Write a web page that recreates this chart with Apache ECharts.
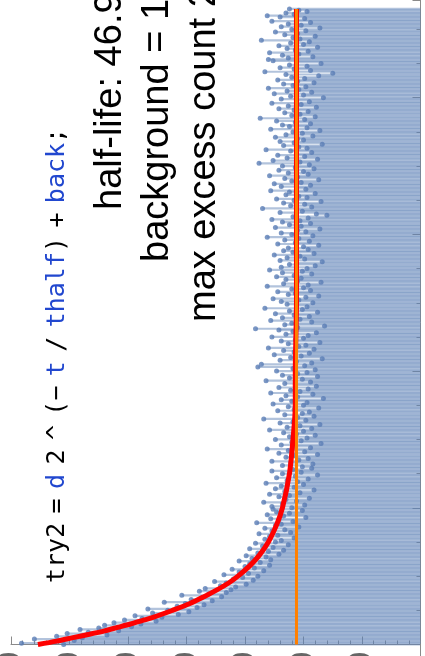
<!DOCTYPE html>
<html>
<head>
<meta charset="utf-8">
<script src="https://cdn.jsdelivr.net/npm/echarts@6/dist/echarts.min.js"></script>
<style>
html, body { margin: 0; padding: 0; background: #fff; }
#chart { width: 425px; height: 656px; }
</style>
</head>
<body>
<div id="chart"></div>
<script>
// Decay measurement: counts per bin (t = tStart + index * tStep)
const tStart = 0;
const tStep = 2;
const counts = [
  // t = 0 .. 258
  305, 341, 312, 296, 330, 289, 311, 268, 302, 284, 258, 291, 275, 247, 270, 239, 262, 226, 253, 238,
  221, 244, 207, 229, 198, 216, 233, 191, 208, 185, 201, 219, 178, 196, 187, 170, 204, 181, 166, 189,
  162, 184, 158, 171, 149, 166, 176, 143, 160, 152, 139, 168, 147, 155, 134, 161, 142, 150, 129, 146,
  137, 155, 128, 144, 132, 149, 121, 139, 130, 117, 146, 126, 135, 113, 141, 124, 119, 133, 108, 129,
  122, 138, 111, 127, 116, 133, 104, 124, 119, 140, 109, 121, 128, 98, 117, 131, 112, 123, 101, 126,
  110, 127, 99, 118, 134, 106, 115, 95, 121, 112, 129, 103, 116, 91, 124, 108, 119, 100, 132, 105,
  114, 96, 123, 107, 88, 118, 102, 127, 109, 93,
  // t = 260 .. 930
  101, 118, 92, 111, 127, 104, 96, 115, 108, 88, 121, 99, 113, 131, 94, 107, 119, 85, 110, 102,
  124, 97, 112, 90, 106, 117, 100, 129, 93, 114, 103, 86, 120, 109, 98, 134, 105, 91, 116, 101,
  95, 122, 108, 87, 113, 100, 126, 97, 110, 119, 83, 105, 115, 92, 128, 103, 111, 96, 121, 89,
  107, 116, 94, 132, 101, 112, 88, 118, 105, 97, 123, 90, 109, 139, 99, 136, 93, 106, 120, 84,
  111, 102, 125, 95, 108, 117, 91, 130, 104, 98, 113, 86, 119, 107, 100, 127, 96, 115, 89, 109,
  121, 141, 105, 82, 116, 110, 93, 128, 103, 118, 95, 108, 124, 88, 112, 101, 133, 97, 106, 114,
  92, 119, 104, 126, 98, 87, 113, 107, 122, 94, 110, 100, 131, 96, 117, 85, 105, 115, 102, 123,
  108, 93, 118, 101, 129, 97, 119, 90, 112, 106, 84, 120, 99, 114, 103, 125, 91, 109, 117, 96,
  113, 100, 87, 122, 107, 95, 116, 104, 131, 92, 110, 119, 98, 105, 86, 124, 102, 112, 94, 118,
  103, 127, 96, 109, 80, 89, 120, 101, 106, 135, 93, 111, 99, 117, 85, 108, 123, 97, 104, 115,
  90, 112, 128, 98, 106, 119, 94, 125, 102, 110, 87, 116, 105, 129, 96, 113, 100, 121, 91, 107,
  118, 95, 138, 103, 126, 88, 114, 99, 122, 106, 93, 111, 132, 97, 104, 117, 84, 108, 120, 100,
  105, 124, 92, 115, 101, 109, 86, 128, 97, 112, 118, 94, 107, 123, 99, 137, 90, 110, 103, 116,
  96, 108, 121, 89, 113, 102, 127, 95, 106, 119, 83, 111, 100, 125, 93, 114, 104, 130, 98, 109,
  117, 91, 105, 122, 99, 110, 87, 115, 75, 133, 94, 108, 120, 97, 112, 85, 106, 126, 130, 113,
  92, 118, 104, 129, 96, 107, 114, 88, 121, 100, 111, 95, 136, 103, 109, 90, 116, 105, 124, 98,
  110, 86, 119, 102, 113, 94, 127, 106, 99, 120, 131, 108, 115, 97, 104, 112
];

// Fitted decay curve, sampled at these times
const fitT =     [0,   5,   10,  15,  20,  25,  30,  35,  40,  50,  60,  70,  80,  90,  100, 115, 130, 150, 175, 200, 250, 300, 350, 400, 500, 700, 930];
const fitCount = [327, 311, 297, 283, 270, 259, 248, 238, 228, 212, 197, 185, 174, 164, 156, 146, 138, 130, 123, 118, 112, 109, 107, 107, 106, 106, 106];

const background = 106;
const bgT = [0, 930];

const titleCode = [
  ['k', 'try2'], ['s', ' '], ['k', '='], ['s', ' '], ['b', 'd'], ['s', ' '], ['k', '2'], ['s', ' '],
  ['k', '^'], ['s', ' '], ['k', '(−'], ['s', ' '], ['b', 't'], ['s', ' '], ['k', '/'], ['s', ' '],
  ['b', 'thalf'], ['k', ')'], ['s', ' '], ['k', '+'], ['s', ' '], ['b', 'back'], ['k', ';']
];
const infoLines = ['half-life: 46.9 s', 'background = 106.1', 'max excess count 221'];

const points = counts.map((c, i) => [c, tStart + i * tStep]);
const fitLine = fitT.map((t, i) => [fitCount[i], t]);
const bgLine = bgT.map(t => [background, t]);

const chart = echarts.init(document.getElementById('chart'), null, { renderer: 'canvas' });

const axisGray = '#8a8a8a';
const sans = '"Liberation Sans", Arial, Helvetica, sans-serif';
const mono = '"DejaVu Sans Mono", monospace';

const richText = titleCode.map(([k, s]) => '{' + k + '|' + s + '}').join('');

function rotatedText(x, y, text, font) {
  return {
    type: 'text', x: x, y: y, rotation: Math.PI / 2, z: 10,
    style: {
      text: text, x: 0, y: 0,
      textAlign: 'left', textVerticalAlign: 'middle', align: 'left', verticalAlign: 'middle',
      fill: '#000', font: font
    }
  };
}

const codeEl = rotatedText(57, 583, richText, '25px ' + mono);
codeEl.style.rich = {
  k: { fill: '#000', fontFamily: mono, fontSize: 25 },
  b: { fill: '#2147CF', fontFamily: mono, fontSize: 25 },
  s: { fill: '#000', fontFamily: mono, fontSize: 15.6 }
};

chart.setOption({
  animation: false,
  grid: { left: 11, right: 4.5, top: 0, bottom: 11.5, containLabel: false, outerBoundsMode: 'none' },
  xAxis: {
    type: 'value',
    inverse: true,
    min: 0, max: 350, interval: 50,
    position: 'bottom',
    axisLine: { onZero: false, lineStyle: { color: axisGray, width: 1 } },
    axisTick: { inside: true, length: 8, lineStyle: { color: axisGray } },
    minorTick: { show: true, splitNumber: 5, length: 4, lineStyle: { color: axisGray } },
    splitLine: { show: false },
    axisLabel: {
      rotate: 90, margin: 7, fontSize: 34, color: '#666', fontFamily: sans,
      formatter: v => (v === 0 ? '' : String(v))
    }
  },
  yAxis: {
    type: 'value',
    min: 0, max: 943, interval: 200,
    position: 'right',
    axisLine: { show: true, onZero: false, lineStyle: { color: axisGray, width: 1 } },
    axisTick: { show: true, inside: true, length: 8, lineStyle: { color: axisGray } },
    minorTick: { show: true, splitNumber: 4, length: 4, lineStyle: { color: axisGray } },
    splitLine: { show: false },
    axisLabel: { show: false }
  },
  series: [
    {
      // filling from each point to the axis
      type: 'custom',
      data: points,
      encode: { x: 0, y: 1 },
      z: 1,
      progressive: 0,
      renderItem: function (params, api) {
        const c = api.value(0), t = api.value(1);
        const p0 = api.coord([0, t]);
        const p1 = api.coord([c, t]);
        return {
          type: 'line',
          shape: { x1: p0[0], y1: p0[1], x2: p1[0], y2: p1[1] },
          style: { stroke: 'rgba(94,129,181,0.48)', lineWidth: 2.2 }
        };
      }
    },
    {
      type: 'scatter',
      data: points,
      symbol: 'circle',
      symbolSize: 5,
      itemStyle: { color: '#5A7DB5' },
      z: 2,
      progressive: 0
    },
    {
      type: 'line',
      data: fitLine,
      smooth: 0.3,
      showSymbol: false,
      lineStyle: { color: '#FF0000', width: 5 },
      z: 3
    },
    {
      type: 'line',
      data: bgLine,
      showSymbol: false,
      lineStyle: { color: '#FF8000', width: 3 },
      z: 4
    }
  ],
  graphic: [
    {
      type: 'line', z: 10,
      shape: { x1: 420.5, y1: 644, x2: 420.5, y2: 656 },
      style: { stroke: axisGray, lineWidth: 1 }
    },
    codeEl,
    rotatedText(111, 210, infoLines[0], '38px ' + sans),
    rotatedText(158, 262, infoLines[1], '38px ' + sans),
    rotatedText(205, 322, infoLines[2], '38px ' + sans)
  ]
});
</script>
</body>
</html>
